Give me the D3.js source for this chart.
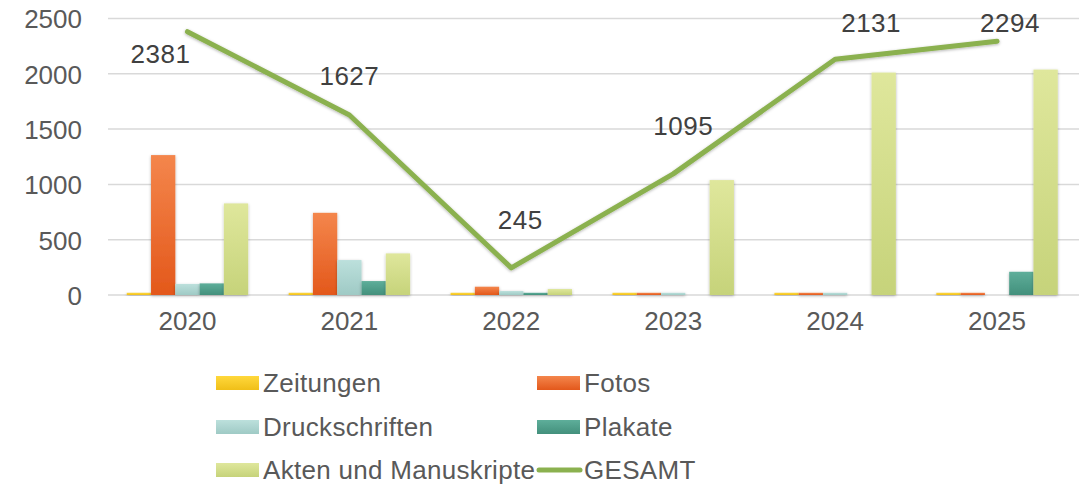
<!DOCTYPE html>
<html>
<head>
<meta charset="utf-8">
<script src="https://cdn.jsdelivr.net/npm/d3@7"></script>
<style>
  body { margin: 0; background: #fff; }
  svg { font-family: "Liberation Sans", Arial, sans-serif; }
</style>
</head>
<body>
<svg id="chart" width="1079" height="486"></svg>
<script>
// data
const years = ["2020", "2021", "2022", "2023", "2024", "2025"];
const seriesNames = ["Zeitungen", "Fotos", "Druckschriften", "Plakate", "Akten und Manuskripte"];
const zeitungen = [20, 20, 20, 20, 20, 20];
const fotos = [1265, 743, 75, 20, 20, 20];
const druckschriften = [100, 316, 36, 20, 20, 0];
const plakate = [105, 126, 20, 0, 0, 210];
const akten = [828, 376, 54, 1039, 2011, 2038];
const gesamt = [2381, 1627, 245, 1095, 2131, 2294];
const yTicks = [0, 500, 1000, 1500, 2000, 2500];

// colours: [top, bottom] of each bar gradient
const colors = [
  ["#ffd83c", "#f0bf18"],
  ["#f4864c", "#e3581b"],
  ["#bce0dc", "#9fcac5"],
  ["#5eae9a", "#43907c"],
  ["#dfe79c", "#c6d37a"]
];
const lineColor = "#8bb14f";
// excel label placement relative to the point (dx, dy of baseline)
const labelOffsets = [[-27, 31], [0, -30], [9, -39], [10, -39], [36, -27], [13, -9]];

const svg = d3.select("#chart");
const values = [zeitungen, fotos, druckschriften, plakate, akten];

const x = d3.scaleBand().domain(years).range([106.5, 1078]).paddingInner(0.25).paddingOuter(0.125);
const xs = d3.scaleBand().domain(d3.range(5)).range([0, x.bandwidth()]);
const y = d3.scaleLinear().domain([0, 2500]).range([295, 18.5]);

const defs = svg.append("defs");
colors.forEach((c, i) => {
  const g = defs.append("linearGradient").attr("id", "grad" + i)
    .attr("x1", 0).attr("y1", 0).attr("x2", 0).attr("y2", 1);
  g.append("stop").attr("offset", "0%").attr("stop-color", c[0]);
  g.append("stop").attr("offset", "100%").attr("stop-color", c[1]);
});
const shadow = defs.append("filter").attr("id", "shadow")
  .attr("x", "-30%").attr("y", "-10%").attr("width", "160%").attr("height", "130%");
shadow.append("feDropShadow").attr("dx", 0).attr("dy", 1).attr("stdDeviation", 1.5)
  .attr("flood-color", "#000").attr("flood-opacity", 0.3);

// grid
svg.append("g").selectAll("line").data(yTicks).enter().append("line")
  .attr("x1", 108).attr("x2", 1079)
  .attr("y1", d => y(d)).attr("y2", d => y(d))
  .attr("stroke", "#d9d9d9").attr("stroke-width", 1.5);

// y axis labels
const yAxis = svg.append("g").attr("transform", "translate(82,0)")
  .call(d3.axisLeft(y).tickValues(yTicks).tickFormat(d3.format("d")).tickSize(0).tickPadding(0));
yAxis.select(".domain").remove();
yAxis.selectAll("text").attr("font-size", 26).attr("fill", "#595959")
  .attr("font-family", "Liberation Sans, Arial, sans-serif").attr("dy", "0.36em");

// x axis labels
const xAxis = svg.append("g").attr("transform", "translate(0,312)")
  .call(d3.axisBottom(x).tickSize(0).tickPadding(0));
xAxis.select(".domain").remove();
xAxis.selectAll("text").attr("font-size", 26).attr("fill", "#595959")
  .attr("font-family", "Liberation Sans, Arial, sans-serif").attr("dy", "0.71em");

// bars
values.forEach((vals, si) => {
  svg.append("g").attr("filter", "url(#shadow)")
    .selectAll("rect").data(vals).enter().append("rect")
    .attr("x", (d, i) => x(years[i]) + xs(si))
    .attr("width", xs.bandwidth())
    .attr("y", d => y(d))
    .attr("height", d => y(0) - y(d))
    .attr("fill", "url(#grad" + si + ")");
});

// total line
const cx = i => x(years[i]) + x.bandwidth() / 2;
const line = d3.line().x((d, i) => cx(i)).y(d => y(d));
svg.append("path").datum(gesamt)
  .attr("d", line).attr("fill", "none")
  .attr("stroke", lineColor).attr("stroke-width", 5)
  .attr("stroke-linecap", "round").attr("stroke-linejoin", "round")
  .attr("filter", "url(#shadow)");

svg.append("g").selectAll("text").data(gesamt).enter().append("text")
  .attr("x", (d, i) => cx(i) + labelOffsets[i][0])
  .attr("y", (d, i) => y(d) + labelOffsets[i][1])
  .attr("text-anchor", "middle").attr("font-size", 26).attr("letter-spacing", 0.5)
  .attr("fill", "#404040").text(d => d);

// legend
const legendItems = seriesNames.map((n, i) => ({name: n, type: "bar", i}))
  .concat([{name: "GESAMT", type: "line"}]);
const legend = svg.append("g");
legendItems.forEach((d, k) => {
  const col = k % 2, row = Math.floor(k / 2);
  const lx = col === 0 ? 216 : 537;
  const ly = [383, 427, 470][row];
  const g = legend.append("g").attr("transform", `translate(${lx},${ly})`);
  if (d.type === "bar") {
    g.append("rect").attr("x", 0).attr("y", -7).attr("width", 43).attr("height", 14)
      .attr("fill", "url(#grad" + d.i + ")");
  } else {
    g.append("line").attr("x1", 2).attr("x2", 43).attr("y1", 0).attr("y2", 0)
      .attr("stroke", lineColor).attr("stroke-width", 5).attr("stroke-linecap", "round");
  }
  g.append("text").attr("x", 47).attr("y", 0).attr("dy", "0.36em")
    .attr("font-size", 26).attr("letter-spacing", 0.3).attr("fill", "#595959").text(d.name);
});
</script>
</body>
</html>
